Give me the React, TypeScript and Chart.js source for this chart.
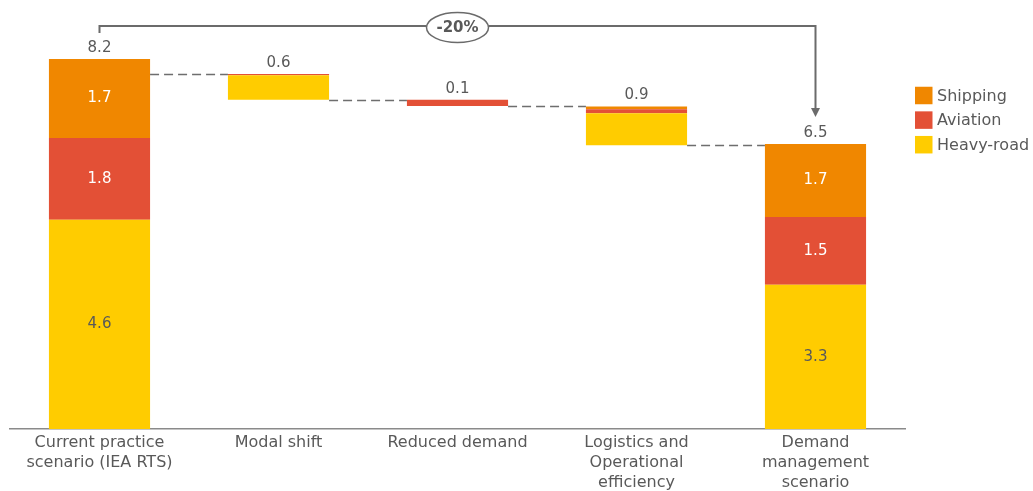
import React, { useEffect, useRef } from "react";
import { Chart, registerables } from "chart.js";

Chart.register(...registerables);

// ---- data ----
const categories = [
  ["Current practice", "scenario (IEA RTS)"],
  ["Modal shift"],
  ["Reduced demand"],
  ["Logistics and", "Operational", "efficiency"],
  ["Demand", "management", "scenario"],
];
const heavyRoad = [4.64, 0.54, 0, 0.71, 3.2];
const aviation = [1.81, 0.03, 0.14, 0.09, 1.5];
const shipping = [1.75, 0, 0, 0.06, 1.62];
const barBase = [0, 7.3, 7.16, 6.29, 0];
const totalLabels = ["8.2", "0.6", "0.1", "0.9", "6.5"];
const heavyRoadLabels = ["4.6", "", "", "", "3.3"];
const aviationLabels = ["1.8", "", "", "", "1.5"];
const shippingLabels = ["1.7", "", "", "", "1.7"];
const changeLabel = "-20%";
const seriesNames = ["Shipping", "Aviation", "Heavy-road"];

const COL_SHIP = "#F08700";
const COL_AV = "#E35036";
const COL_HEAVY = "#FFCC00";
const TEXT = "#595959";
const LINE = "#6b6b6b";
const FONT = "'DejaVu Sans', sans-serif";

const heavyRanges = heavyRoad.map((h, i) => [barBase[i], barBase[i] + h]);
const aviationRanges = aviation.map((a, i) => [
  barBase[i] + heavyRoad[i],
  barBase[i] + heavyRoad[i] + a,
]);
const shippingRanges = shipping.map((s, i) => [
  barBase[i] + heavyRoad[i] + aviation[i],
  barBase[i] + heavyRoad[i] + aviation[i] + s,
]);
const barTop = shippingRanges.map((r) => r[1]);
const connectorLevels = [barTop[1], barBase[1], barBase[2], barBase[3]];

const overlay = {
  id: "overlay",
  afterDatasetsDraw(chart: any) {
    const { ctx, scales, chartArea } = chart;
    const x = scales.x;
    const y = scales.y;
    ctx.save();
    const half = chart.getDatasetMeta(0).data[0].width / 2;

    // segment labels
    const segs: [number, string[], string][] = [
      [0, heavyRoadLabels, TEXT],
      [1, aviationLabels, "#ffffff"],
      [2, shippingLabels, "#ffffff"],
    ];
    ctx.font = `15px ${FONT}`;
    ctx.textAlign = "center";
    ctx.textBaseline = "middle";
    segs.forEach(([di, labels, color]) => {
      const meta = chart.getDatasetMeta(di);
      labels.forEach((lab, i) => {
        if (!lab) return;
        const el = meta.data[i];
        ctx.fillStyle = color;
        ctx.fillText(lab, el.x, (el.y + el.base) / 2);
      });
    });

    // totals above bars
    ctx.fillStyle = TEXT;
    totalLabels.forEach((lab, i) => {
      ctx.fillText(lab, x.getPixelForValue(i), y.getPixelForValue(barTop[i]) - 11);
    });

    // dashed connectors
    ctx.strokeStyle = "#6e6e6e";
    ctx.lineWidth = 1.5;
    ctx.setLineDash([9, 5]);
    connectorLevels.forEach((lv, i) => {
      const py = Math.round(y.getPixelForValue(lv)) + 0.5;
      ctx.beginPath();
      ctx.moveTo(x.getPixelForValue(i) + half, py);
      ctx.lineTo(x.getPixelForValue(i + 1) - half, py);
      ctx.stroke();
    });
    ctx.setLineDash([]);

    // bracket
    const x0 = x.getPixelForValue(0);
    const x4 = x.getPixelForValue(4);
    const topPx = y.getPixelForValue(barTop[0]);
    const lineY = topPx - 33;
    const endTop = y.getPixelForValue(barTop[4]);
    const tipY = endTop - 27;
    ctx.strokeStyle = LINE;
    ctx.lineWidth = 2;
    ctx.beginPath();
    ctx.moveTo(x0, lineY + 7);
    ctx.lineTo(x0, lineY);
    ctx.lineTo(x4, lineY);
    ctx.lineTo(x4, tipY - 7);
    ctx.stroke();
    ctx.fillStyle = LINE;
    ctx.beginPath();
    ctx.moveTo(x4 - 4.5, tipY - 9);
    ctx.lineTo(x4 + 4.5, tipY - 9);
    ctx.lineTo(x4, tipY);
    ctx.closePath();
    ctx.fill();

    // ellipse label
    const cx = (x0 + x4) / 2;
    const cy = lineY + 1.5;
    ctx.beginPath();
    ctx.ellipse(cx, cy, 31, 15, 0, 0, Math.PI * 2);
    ctx.fillStyle = "#ffffff";
    ctx.fill();
    ctx.lineWidth = 1.5;
    ctx.strokeStyle = LINE;
    ctx.stroke();
    ctx.fillStyle = TEXT;
    ctx.font = `bold 15px ${FONT}`;
    ctx.fillText(changeLabel, cx, cy + 1);

    // legend
    const colors = [COL_SHIP, COL_AV, COL_HEAVY];
    const lx = chartArea.right + 10;
    ctx.font = `16px ${FONT}`;
    ctx.textAlign = "left";
    seriesNames.forEach((name, i) => {
      const cyL = 95.5 + i * 24.6;
      ctx.fillStyle = colors[i];
      ctx.fillRect(lx, cyL - 8.75, 17.5, 17.5);
      ctx.fillStyle = TEXT;
      ctx.fillText(name, lx + 22, cyL + 1);
    });

    ctx.restore();
  },
};

export default function App() {
  const ref = useRef<HTMLCanvasElement>(null);
  useEffect(() => {
    document.body.style.margin = "0";
    const chart = new Chart(ref.current!, {
      type: "bar",
      data: {
        labels: categories as any,
        datasets: [
          { label: "Heavy-road", data: heavyRanges as any, backgroundColor: COL_HEAVY, grouped: false } as any,
          { label: "Aviation", data: aviationRanges as any, backgroundColor: COL_AV, grouped: false } as any,
          { label: "Shipping", data: shippingRanges as any, backgroundColor: COL_SHIP, grouped: false } as any,
        ],
      },
      options: {
        responsive: false,
        animation: false,
        layout: { padding: { left: 10, right: 128, top: 23, bottom: -6 } },
        datasets: { bar: { categoryPercentage: 1, barPercentage: 0.565, borderWidth: 0 } },
        plugins: { legend: { display: false }, tooltip: { enabled: false } },
        scales: {
          x: {
            grid: { display: false, drawTicks: false },
            border: { display: true, color: "#8a8a8a", width: 1.5 },
            ticks: {
              color: TEXT,
              font: { family: FONT, size: 16, lineHeight: 1.25 },
              padding: 4,
              maxRotation: 0,
              autoSkip: false,
            },
          },
          y: { display: false, min: 0, max: 9 },
        },
      },
      plugins: [overlay],
    });
    return () => chart.destroy();
  }, []);
  return (
    <div style={{ width: 1033, height: 491 }}>
      <canvas ref={ref} width={1033} height={491} />
    </div>
  );
}
